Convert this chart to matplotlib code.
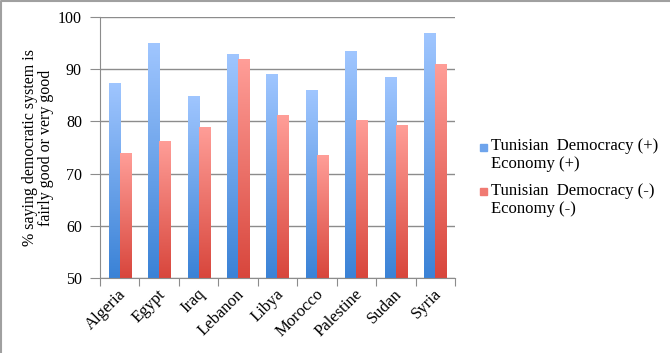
import numpy as np
import matplotlib.pyplot as plt
import matplotlib.transforms as mtransforms
from matplotlib.colors import LinearSegmentedColormap
from matplotlib.patches import Rectangle
from matplotlib.lines import Line2D

countries = ['Algeria', 'Egypt', 'Iraq', 'Lebanon', 'Libya', 'Morocco',
             'Palestine', 'Sudan', 'Syria']
pos_vals = [87.4, 95.0, 84.9, 93.0, 89.1, 86.0, 93.4, 88.5, 97.0]
neg_vals = [73.9, 76.3, 79.0, 91.9, 81.2, 73.5, 80.3, 79.3, 91.0]
labels = ['Tunisian  Democracy (+)\nEconomy (+)',
          'Tunisian  Democracy (-)\nEconomy (-)']

plt.rcParams['font.family'] = ['Liberation Serif', 'DejaVu Serif']

blue_cm = LinearSegmentedColormap.from_list('b', ['#3a82d6', '#a0c6ff'])
red_cm = LinearSegmentedColormap.from_list('r', ['#d8463c', '#ff9e98'])

W, H = 670, 353
fig = plt.figure(figsize=(6.7, 3.53), dpi=100)
ax = fig.add_axes([100/W, 1-278/H, 355/W, 261/H])

x = np.arange(len(countries))
w = 0.28
grad = np.linspace(0, 1, 256).reshape(-1, 1)

def grad_bars(xs, vals, cmap):
    bars = ax.bar(xs, vals, w, bottom=0, color='none', edgecolor='none')
    for b in bars:
        x0, y1 = b.get_x(), b.get_height()
        im = ax.imshow(grad, cmap=cmap, origin='lower', aspect='auto',
                       extent=[x0, x0 + w, 50, y1], zorder=2)
        im.set_clip_path(b)
    return bars

grad_bars(x - w/2, pos_vals, blue_cm)
grad_bars(x + w/2, neg_vals, red_cm)

ax.set_xlim(-0.5, len(countries) - 0.5)
ax.set_ylim(50, 100)
ax.set_yticks(range(50, 101, 10))
ax.yaxis.grid(True, color='#8c8c8c', linewidth=1)
ax.set_axisbelow(True)
for s in ['top', 'right']:
    ax.spines[s].set_visible(False)
ax.spines['left'].set_color('#8c8c8c')
ax.spines['bottom'].set_color('#8c8c8c')
ax.tick_params(axis='y', length=7, color='#8c8c8c', labelsize=11.5, pad=6)
ax.set_xticks(np.arange(-0.5, len(countries), 1))
ax.set_xticklabels([])
ax.tick_params(axis='x', which='major', length=6, color='#8c8c8c')
ax.set_xticks(x, minor=True)
ax.set_xticklabels(countries, minor=True, rotation=45, ha='right',
                   va='center', rotation_mode='anchor', fontsize=12)
ax.tick_params(axis='x', which='minor', length=0, pad=10)
shift = mtransforms.ScaledTranslation(4/100, 0, fig.dpi_scale_trans)
for t in ax.get_xticklabels(minor=True):
    t.set_transform(t.get_transform() + shift)

ax.set_ylabel('% saying democratic system is\nfairly good or very good',
              fontsize=11.5, labelpad=3, linespacing=1.0)

# legend drawn by hand so the marker sits on the first text line
leg_cols = ['#6ea4ec', '#f07a72']
leg_y = [147, 192]
for col, lab, yy in zip(leg_cols, labels, leg_y):
    fig.patches.append(Rectangle((480/W, 1-(yy+3.5)/H), 7/W, 7/H,
                                 transform=fig.transFigure, color=col))
    fig.text(491/W, 1-(yy-9)/H, lab, fontsize=12, va='top', ha='left',
             linespacing=1.15)

# frame on top and left edges
fig.lines.append(Line2D([0.0015, 0.0015, 1], [0, 0.9985, 0.9985],
                        transform=fig.transFigure, color='#a0a0a0', linewidth=1.5))

fig.savefig('out.png', dpi=100)
